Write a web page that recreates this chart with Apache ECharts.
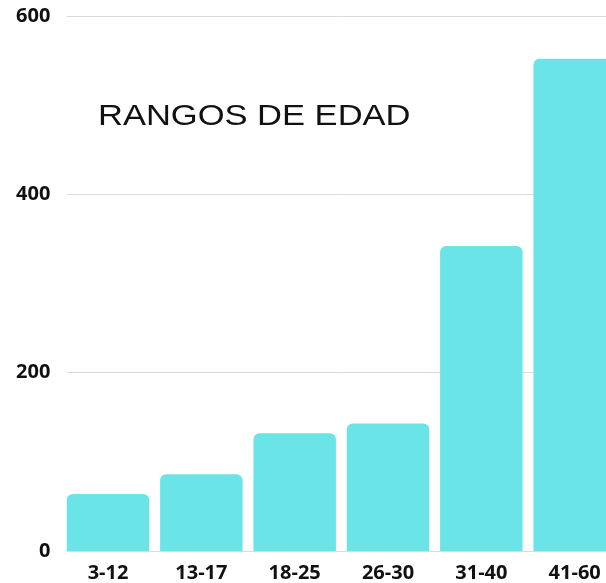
<!DOCTYPE html>
<html>
<head>
<meta charset="utf-8">
<script src="https://cdn.jsdelivr.net/npm/echarts@6/dist/echarts.min.js"></script>
<style>
html,body{margin:0;padding:0;background:#fff;}
#chart{width:606px;height:583px;}
</style>
</head>
<body>
<div id="chart"></div>
<script>
const categories = ['3-12', '13-17', '18-25', '26-30', '31-40', '41-60'];
const values = [64, 86, 132, 143, 342, 552];
const yTicks = [0, 200, 400, 600];
const titleText = 'RANGOS DE EDAD';

const chart = echarts.init(document.getElementById('chart'), null, {renderer: 'canvas'});
const labelFont = {fontFamily: 'Open Sans', fontWeight: 'bold', fontSize: 20, color: '#111'};
chart.setOption({
  animation: false,
  backgroundColor: '#fff',
  graphic: [{
    type: 'text',
    x: 98,
    y: 117,
    scaleX: 1.15,
    style: {
      text: titleText,
      font: '30px "Liberation Sans"',
      fill: '#111',
      align: 'left',
      verticalAlign: 'middle'
    }
  }],
  grid: [
    {left: 61.35, width: 560, top: 16, bottom: 32, containLabel: false, outerBoundsMode: 'none'},
    {left: 67, right: 0, top: 16, bottom: 32, containLabel: false, outerBoundsMode: 'none'}
  ],
  xAxis: [
    {type: 'category', gridIndex: 0, data: categories,
     axisLine: {show: false}, axisTick: {show: false},
     axisLabel: Object.assign({margin: 12, interval: 0, hideOverlap: false}, labelFont)},
    {type: 'value', gridIndex: 1, show: false}
  ],
  yAxis: [
    {type: 'value', gridIndex: 0, min: yTicks[0], max: yTicks[yTicks.length - 1], interval: yTicks[1] - yTicks[0],
     axisLine: {show: false}, axisTick: {show: false}, splitLine: {show: false},
     axisLabel: Object.assign({margin: 11}, labelFont)},
    {type: 'value', gridIndex: 1, min: yTicks[0], max: yTicks[yTicks.length - 1], interval: yTicks[1] - yTicks[0],
     axisLine: {show: false}, axisTick: {show: false}, axisLabel: {show: false},
     splitLine: {show: true, lineStyle: {color: '#dadada', width: 1}}}
  ],
  series: [{
    type: 'bar',
    xAxisIndex: 0, yAxisIndex: 0,
    data: values,
    barWidth: 82.5,
    itemStyle: {color: '#6be4e7', borderRadius: [6, 6, 0, 0]},
    z: 3
  }]
});
</script>
</body>
</html>
